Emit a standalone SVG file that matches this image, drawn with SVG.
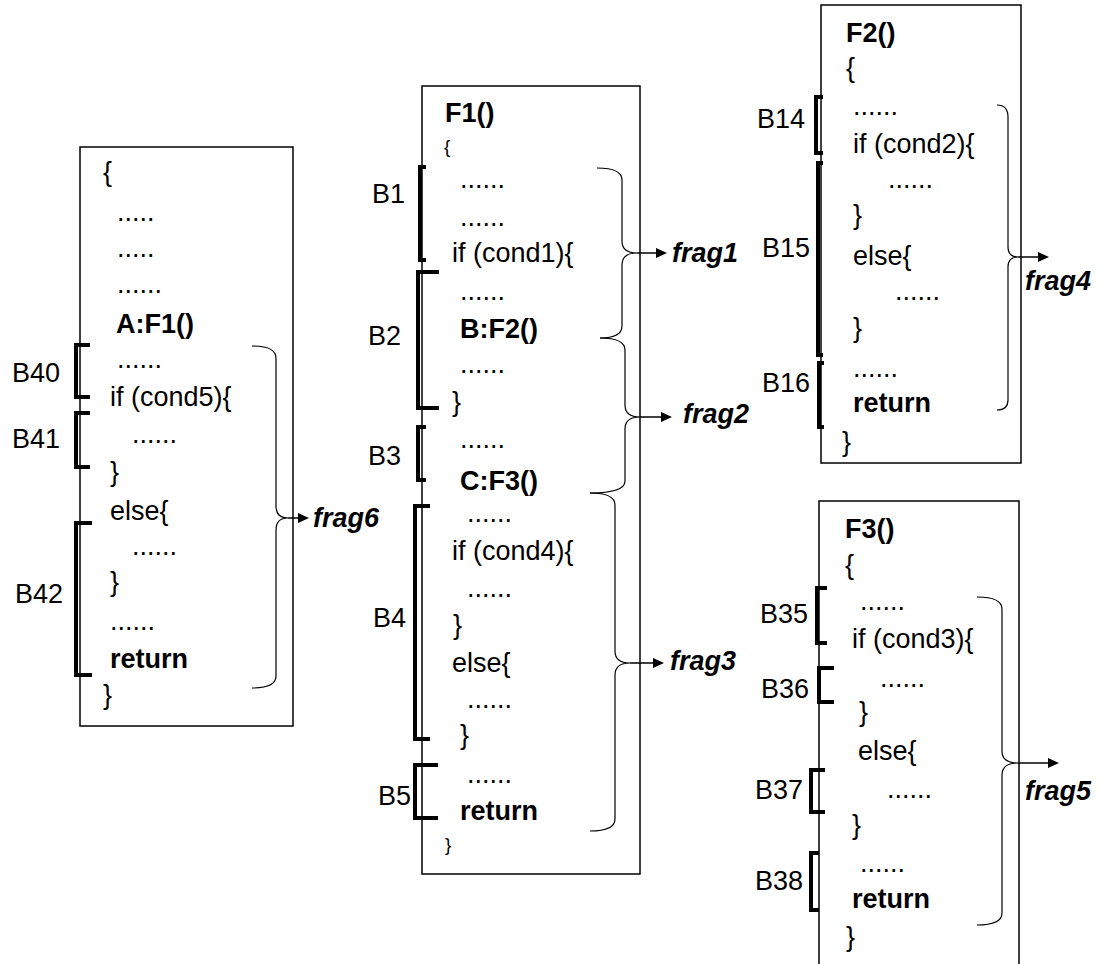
<svg xmlns="http://www.w3.org/2000/svg" width="1102" height="964" viewBox="0 0 1102 964">
<defs>
<marker id="ah" markerUnits="userSpaceOnUse" markerWidth="12" markerHeight="10" refX="1" refY="5" orient="auto">
<path d="M0,0 L11,5 L0,10 Z" fill="#000"/>
</marker>
<style>
text{font-family:"Liberation Sans",Arial,sans-serif;font-size:27px;fill:#000}
.b{font-weight:bold}
.s{font-size:19px}
.fr{font-weight:bold;font-style:italic}
.box{fill:#fff;stroke:#000;stroke-width:1.5}
.bk{fill:none;stroke:#000;stroke-width:4}
.br{fill:none;stroke:#000;stroke-width:1.2}
.ar{fill:none;stroke:#000;stroke-width:1.5;marker-end:url(#ah)}
</style>
</defs>
<rect width="1102" height="964" fill="#fff"/>

<g id="main">
<rect class="box" x="80" y="147" width="213" height="579"/>
<text x="103" y="181">{</text>
<text x="117" y="221">.....</text>
<text x="117" y="257">.....</text>
<text x="117" y="293">......</text>
<text class="b" x="116" y="333">A:F1()</text>
<text x="117" y="368">......</text>
<text x="110" y="406">if (cond5){</text>
<text x="132" y="443">......</text>
<text x="110" y="481">}</text>
<text x="110" y="520">else{</text>
<text x="132" y="555">......</text>
<text x="110" y="591">}</text>
<text x="110" y="630">......</text>
<text class="b" x="110" y="668">return</text>
<text x="103" y="704">}</text>
<path class="bk" d="M90,345 H76 V397 H90"/>
<path class="bk" d="M90,413 H76 V467 H90"/>
<path class="bk" d="M92,523 H76 V675 H92"/>
<text x="12" y="382">B40</text>
<text x="12" y="448">B41</text>
<text x="15" y="603">B42</text>
</g>

<g id="F1">
<rect class="box" x="422" y="86" width="218" height="788"/>
<text class="b" x="445" y="122">F1()</text>
<text class="s" x="444" y="153">{</text>
<text x="460" y="188">......</text>
<text x="460" y="226">......</text>
<text x="452" y="262">if (cond1){</text>
<text x="460" y="300">......</text>
<text class="b" x="460" y="338">B:F2()</text>
<text x="460" y="373">......</text>
<text x="452" y="411">}</text>
<text x="460" y="448">......</text>
<text class="b" x="460" y="490">C:F3()</text>
<text x="467" y="522">......</text>
<text x="452" y="560">if (cond4){</text>
<text x="467" y="597">......</text>
<text x="453" y="634">}</text>
<text x="452" y="672">else{</text>
<text x="467" y="708">......</text>
<text x="460" y="744">}</text>
<text x="467" y="783">......</text>
<text class="b" x="460" y="820">return</text>
<text class="s" x="445" y="851">}</text>
<path class="bk" d="M426,167 H420 V260 H426"/>
<path class="bk" d="M439,272 H418 V408 H439"/>
<path class="bk" d="M426,427 H418 V480 H426"/>
<path class="bk" d="M430,506 H415 V739 H430"/>
<path class="bk" d="M438,765 H415 V818 H438"/>
<text x="372" y="203">B1</text>
<text x="368" y="345">B2</text>
<text x="368" y="465">B3</text>
<text x="373" y="627">B4</text>
<text x="378" y="805">B5</text>
</g>

<g id="F2">
<rect class="box" x="821" y="5" width="200" height="458"/>
<text class="b" x="846" y="42">F2()</text>
<text x="846" y="77">{</text>
<text x="853" y="115">......</text>
<text x="853" y="153">if (cond2){</text>
<text x="888" y="188">......</text>
<text x="853" y="224">}</text>
<text x="853" y="265">else{</text>
<text x="895" y="300">......</text>
<text x="853" y="337">}</text>
<text x="853" y="377">......</text>
<text class="b" x="853" y="412">return</text>
<text x="842" y="451">}</text>
<path class="bk" d="M823,97 H816 V153 H823"/>
<path class="bk" d="M823,163 H818 V355 H823"/>
<path class="bk" d="M824,363 H819 V427 H824"/>
<text x="757" y="128">B14</text>
<text x="762" y="257">B15</text>
<text x="762" y="392">B16</text>
</g>

<g id="F3">
<rect class="box" x="819" y="501" width="200" height="470"/>
<text class="b" x="845" y="538">F3()</text>
<text x="845" y="574">{</text>
<text x="860" y="610">......</text>
<text x="852" y="648">if (cond3){</text>
<text x="880" y="687">......</text>
<text x="859" y="721">}</text>
<text x="858" y="760">else{</text>
<text x="887" y="798">......</text>
<text x="852" y="834">}</text>
<text x="860" y="872">......</text>
<text class="b" x="852" y="908">return</text>
<text x="846" y="946">}</text>
<path class="bk" d="M827,588 H817 V643 H827"/>
<path class="bk" d="M834,668 H819 V702 H834"/>
<path class="bk" d="M825,770 H811 V812 H825"/>
<path class="bk" d="M819,853 H811 V910 H819"/>
<text x="760" y="623">B35</text>
<text x="761" y="698">B36</text>
<text x="755" y="799">B37</text>
<text x="755" y="890">B38</text>
</g>

<g id="frags">
<text class="fr" x="313" y="527">frag6</text>
<text class="fr" x="672" y="262">frag1</text>
<text class="fr" x="683" y="423">frag2</text>
<text class="fr" x="670" y="670">frag3</text>
<text class="fr" x="1025" y="290">frag4</text>
<text class="fr" x="1025" y="800">frag5</text>
</g>

<g id="connectors">
<path class="br" d="M252,346 Q276,346 276,358 V506 Q276,518 288,518 Q276,518 276,530 V676 Q276,688 252,688"/>
<path class="ar" d="M288,518 H299"/>
<path class="br" d="M597,168 Q622,168 622,180 V241 Q622,253 637,253 Q622,253 622,265 V326 Q622,338 600,338"/>
<path class="ar" d="M637,253 H657"/>
<path class="br" d="M600,338 Q625,338 625,350 V405 Q625,417 640,417 Q625,417 625,429 V481 Q625,493 590,493"/>
<path class="ar" d="M640,417 H662"/>
<path class="br" d="M590,493 Q615,493 615,505 V651 Q615,663 630,663 Q615,663 615,675 V819 Q615,831 590,831"/>
<path class="ar" d="M630,663 H654"/>
<path class="br" d="M997,105 Q1008,105 1008,117 V247 Q1008,257 1018,257 Q1008,257 1008,267 V400 Q1008,410 997,410"/>
<path class="ar" d="M1018,257 H1039"/>
<path class="br" d="M977,597 Q1002,597 1002,609 V751 Q1002,763 1018,763 Q1002,763 1002,775 V913 Q1002,925 977,925"/>
<path class="ar" d="M1018,763 H1049"/>
</g>
</svg>
